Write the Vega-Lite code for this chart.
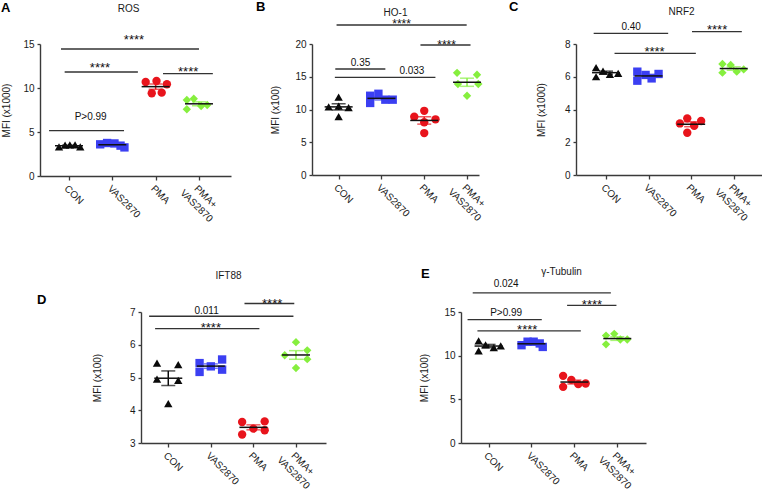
{
"$schema": "https://vega.github.io/schema/vega-lite/v6.json",
"padding": {"left": 1, "top": 1, "right": 0, "bottom": 0},
"spacing": 42,
"datasets": {
"pts": [
{"p":"A","g":"CON","j":-0.23,"v":3.3},{"p":"A","g":"CON","j":-0.09,"v":3.5},{"p":"A","g":"CON","j":0.02,"v":3.55},{"p":"A","g":"CON","j":0.14,"v":3.55},{"p":"A","g":"CON","j":0.26,"v":3.3},
{"p":"A","g":"VAS2870","j":-0.28,"v":3.6},{"p":"A","g":"VAS2870","j":-0.12,"v":3.75},{"p":"A","g":"VAS2870","j":0.05,"v":3.7},{"p":"A","g":"VAS2870","j":0.19,"v":3.45},{"p":"A","g":"VAS2870","j":0.28,"v":3.25},
{"p":"A","g":"PMA","j":-0.23,"v":10.68},{"p":"A","g":"PMA","j":-0.09,"v":9.4},{"p":"A","g":"PMA","j":0.02,"v":10.8},{"p":"A","g":"PMA","j":0.14,"v":9.47},{"p":"A","g":"PMA","j":0.26,"v":10.42},
{"p":"A","g":"PMA+ VAS2870","j":-0.28,"v":8.64},{"p":"A","g":"PMA+ VAS2870","j":-0.28,"v":7.58},{"p":"A","g":"PMA+ VAS2870","j":-0.12,"v":8.78},{"p":"A","g":"PMA+ VAS2870","j":0.05,"v":7.95},{"p":"A","g":"PMA+ VAS2870","j":0.19,"v":8.07},
{"p":"B","g":"CON","j":-0.23,"v":10.4},{"p":"B","g":"CON","j":0,"v":11.9},{"p":"B","g":"CON","j":0,"v":10.5},{"p":"B","g":"CON","j":0,"v":8.9},{"p":"B","g":"CON","j":0.23,"v":10.3},
{"p":"B","g":"VAS2870","j":-0.26,"v":12.1},{"p":"B","g":"VAS2870","j":-0.26,"v":11.0},{"p":"B","g":"VAS2870","j":-0.07,"v":12.4},{"p":"B","g":"VAS2870","j":0.09,"v":11.5},{"p":"B","g":"VAS2870","j":0.26,"v":11.5},
{"p":"B","g":"PMA","j":0,"v":9.8},{"p":"B","g":"PMA","j":-0.23,"v":8.9},{"p":"B","g":"PMA","j":0,"v":8.05},{"p":"B","g":"PMA","j":0.26,"v":8.5},{"p":"B","g":"PMA","j":0,"v":6.4},
{"p":"B","g":"PMA+ VAS2870","j":-0.23,"v":15.6},{"p":"B","g":"PMA+ VAS2870","j":0.23,"v":15.3},{"p":"B","g":"PMA+ VAS2870","j":-0.21,"v":13.9},{"p":"B","g":"PMA+ VAS2870","j":0.26,"v":13.9},{"p":"B","g":"PMA+ VAS2870","j":0,"v":12.1},
{"p":"C","g":"CON","j":-0.23,"v":6.55},{"p":"C","g":"CON","j":-0.23,"v":6.0},{"p":"C","g":"CON","j":-0.07,"v":6.35},{"p":"C","g":"CON","j":0.09,"v":6.15},{"p":"C","g":"CON","j":0.28,"v":6.2},
{"p":"C","g":"VAS2870","j":-0.26,"v":6.31},{"p":"C","g":"VAS2870","j":-0.26,"v":5.76},{"p":"C","g":"VAS2870","j":-0.07,"v":6.11},{"p":"C","g":"VAS2870","j":0.07,"v":5.9},{"p":"C","g":"VAS2870","j":0.23,"v":6.17},
{"p":"C","g":"PMA","j":-0.09,"v":3.46},{"p":"C","g":"PMA","j":-0.26,"v":3.15},{"p":"C","g":"PMA","j":0.07,"v":3.01},{"p":"C","g":"PMA","j":0.23,"v":3.3},{"p":"C","g":"PMA","j":-0.09,"v":2.58},
{"p":"C","g":"PMA+ VAS2870","j":-0.26,"v":6.78},{"p":"C","g":"PMA+ VAS2870","j":-0.07,"v":6.72},{"p":"C","g":"PMA+ VAS2870","j":-0.26,"v":6.25},{"p":"C","g":"PMA+ VAS2870","j":0.07,"v":6.31},{"p":"C","g":"PMA+ VAS2870","j":0.23,"v":6.45},
{"p":"D","g":"CON","j":-0.26,"v":5.44},{"p":"D","g":"CON","j":0.23,"v":5.39},{"p":"D","g":"CON","j":-0.26,"v":4.95},{"p":"D","g":"CON","j":0.23,"v":4.91},{"p":"D","g":"CON","j":0,"v":4.2},
{"p":"D","g":"VAS2870","j":-0.26,"v":5.44},{"p":"D","g":"VAS2870","j":-0.26,"v":5.17},{"p":"D","g":"VAS2870","j":0,"v":5.34},{"p":"D","g":"VAS2870","j":0.26,"v":5.55},{"p":"D","g":"VAS2870","j":0.26,"v":5.24},
{"p":"D","g":"PMA","j":-0.26,"v":3.64},{"p":"D","g":"PMA","j":0.26,"v":3.66},{"p":"D","g":"PMA","j":0,"v":3.44},{"p":"D","g":"PMA","j":0.26,"v":3.39},{"p":"D","g":"PMA","j":-0.26,"v":3.26},
{"p":"D","g":"PMA+ VAS2870","j":0,"v":6.08},{"p":"D","g":"PMA+ VAS2870","j":-0.26,"v":5.68},{"p":"D","g":"PMA+ VAS2870","j":0.26,"v":5.83},{"p":"D","g":"PMA+ VAS2870","j":0.26,"v":5.56},{"p":"D","g":"PMA+ VAS2870","j":0,"v":5.29},
{"p":"E","g":"CON","j":-0.23,"v":11.69},{"p":"E","g":"CON","j":-0.23,"v":10.55},{"p":"E","g":"CON","j":-0.07,"v":11.23},{"p":"E","g":"CON","j":0.12,"v":10.92},{"p":"E","g":"CON","j":0.28,"v":11.12},
{"p":"E","g":"VAS2870","j":-0.23,"v":11.2},{"p":"E","g":"VAS2870","j":-0.09,"v":11.6},{"p":"E","g":"VAS2870","j":0.05,"v":11.6},{"p":"E","g":"VAS2870","j":0.19,"v":11.4},{"p":"E","g":"VAS2870","j":0.26,"v":11.0},
{"p":"E","g":"PMA","j":-0.26,"v":7.69},{"p":"E","g":"PMA","j":-0.07,"v":7.23},{"p":"E","g":"PMA","j":-0.26,"v":6.43},{"p":"E","g":"PMA","j":0.09,"v":6.74},{"p":"E","g":"PMA","j":0.26,"v":6.81},
{"p":"E","g":"PMA+ VAS2870","j":-0.26,"v":12.3},{"p":"E","g":"PMA+ VAS2870","j":-0.07,"v":12.5},{"p":"E","g":"PMA+ VAS2870","j":-0.26,"v":11.3},{"p":"E","g":"PMA+ VAS2870","j":0.07,"v":11.85},{"p":"E","g":"PMA+ VAS2870","j":0.23,"v":11.85}
],
"sig": [
{"p":"A","x1":-0.185,"x2":3.0,"y":14.43,"lx":1.5,"ly":15.05,"t":"****"},
{"p":"A","x1":-0.1,"x2":1.59,"y":11.82,"lx":0.715,"ly":11.87,"t":"****"},
{"p":"A","x1":2.17,"x2":3.32,"y":11.63,"lx":2.75,"ly":11.34,"t":"****"},
{"p":"A","x1":-0.46,"x2":1.27,"y":5.15,"lx":0.5,"ly":6.41,"t":"P>0.99"},
{"p":"B","x1":-0.05,"x2":2.99,"y":22.9,"lx":1.47,"ly":22.42,"t":"****"},
{"p":"B","x1":1.91,"x2":3.08,"y":19.85,"lx":2.52,"ly":19.26,"t":"****"},
{"p":"B","x1":-0.08,"x2":1.09,"y":16.18,"lx":0.51,"ly":16.64,"t":"0.35"},
{"p":"B","x1":-0.09,"x2":2.26,"y":14.9,"lx":1.71,"ly":15.37,"t":"0.033"},
{"p":"C","x1":-0.29,"x2":1.46,"y":8.65,"lx":0.59,"ly":8.84,"t":"0.40"},
{"p":"C","x1":0.2,"x2":2.11,"y":7.43,"lx":1.14,"ly":7.28,"t":"****"},
{"p":"C","x1":2.02,"x2":3.19,"y":8.75,"lx":2.61,"ly":8.6,"t":"****"},
{"p":"D","x1":-0.45,"x2":2.94,"y":6.87,"lx":0.9,"ly":6.94,"t":"0.011"},
{"p":"D","x1":-0.31,"x2":2.14,"y":6.49,"lx":1.0,"ly":6.39,"t":"****"},
{"p":"D","x1":1.79,"x2":2.96,"y":7.26,"lx":2.44,"ly":7.13,"t":"****"},
{"p":"E","x1":-0.37,"x2":2.85,"y":17.2,"lx":0.41,"ly":17.82,"t":"0.024"},
{"p":"E","x1":1.83,"x2":2.98,"y":15.77,"lx":2.41,"ly":15.4,"t":"****"},
{"p":"E","x1":-0.49,"x2":1.24,"y":14.12,"lx":0.41,"ly":14.51,"t":"P>0.99"},
{"p":"E","x1":-0.26,"x2":2.15,"y":12.83,"lx":0.9,"ly":12.46,"t":"****"}
]
},
"vconcat": [
{"bounds": "flush", "spacing": 81, "hconcat": [
{
 "width": 191, "height": 132,
 "title": {"text": "A", "anchor": "start", "frame": "group", "dx": -39, "dy": 21.5, "offset": 0, "baseline": "alphabetic", "fontSize": 13, "fontWeight": "bold"},
 "layer": [
  {"data": {"name": "pts"}, "transform": [{"filter": "datum.p == 'A'"}],
   "layer": [
    {"mark": {"type": "point", "filled": true, "size": 70, "opacity": 1},
     "encoding": {
      "x": {"field": "g", "type": "nominal", "scale": {"type": "point", "domain": ["CON","VAS2870","PMA","PMA+ VAS2870"], "padding": 0.704, "align": 0.475}, "axis": {"title": null, "labelOverlap": false, "labelExpr": "datum.value == 'PMA+ VAS2870' ? ['PMA+', 'VAS2870'] : datum.value"}},
      "xOffset": {"field": "j", "type": "quantitative", "scale": {"domain": [-0.5, 0.5], "range": [-21.67, 21.67]}},
      "y": {"field": "v", "type": "quantitative", "scale": {"domain": [0, 15], "nice": false}, "axis": {"title": "MFI (x1000)", "values": [0,5,10,15], "titlePadding": 11}},
      "color": {"field": "g", "type": "nominal", "scale": {"domain": ["CON","VAS2870","PMA","PMA+ VAS2870"], "range": ["#0a0a0a","#3b3ff2","#e8141c","#86ef3e"]}, "legend": null},
      "shape": {"field": "g", "type": "nominal", "scale": {"domain": ["CON","VAS2870","PMA","PMA+ VAS2870"], "range": ["triangle-up","square","circle","diamond"]}, "legend": null}
     }},
    {"mark": {"type": "errorbar", "extent": "stderr", "thickness": 1.5, "ticks": {"size": 14}},
     "encoding": {
      "x": {"field": "g", "type": "nominal", "scale": {"type": "point", "domain": ["CON","VAS2870","PMA","PMA+ VAS2870"], "padding": 0.704, "align": 0.475}, "axis": {"title": null, "labelOverlap": false, "labelExpr": "datum.value == 'PMA+ VAS2870' ? ['PMA+', 'VAS2870'] : datum.value"}},
      "y": {"field": "v", "type": "quantitative", "scale": {"domain": [0, 15], "nice": false}, "axis": {"title": "MFI (x1000)", "values": [0,5,10,15], "titlePadding": 11}},
      "color": {"field": "g", "type": "nominal", "scale": {"domain": ["CON","VAS2870","PMA","PMA+ VAS2870"], "range": ["#0a0a0a","#3b3ff2","#e8141c","#86ef3e"]}, "legend": null}
     }},
    {"mark": {"type": "tick", "size": 28, "thickness": 1.5, "color": "#111111"},
     "encoding": {
      "x": {"field": "g", "type": "nominal", "scale": {"type": "point", "domain": ["CON","VAS2870","PMA","PMA+ VAS2870"], "padding": 0.704, "align": 0.475}, "axis": {"title": null, "labelOverlap": false, "labelExpr": "datum.value == 'PMA+ VAS2870' ? ['PMA+', 'VAS2870'] : datum.value"}},
      "y": {"aggregate": "mean", "field": "v", "type": "quantitative", "scale": {"domain": [0, 15], "nice": false}, "axis": {"title": "MFI (x1000)", "values": [0,5,10,15], "titlePadding": 11}}
     }}
   ]},
  {"data": {"name": "sig"}, "transform": [{"filter": "datum.p == 'A'"}],
   "layer": [
    {"mark": {"type": "rule", "color": "#333333", "strokeWidth": 1.3},
     "encoding": {
      "x": {"field": "x1", "type": "quantitative", "scale": {"domain": [-0.669, 3.739], "nice": false, "zero": false}, "axis": {"orient": "top", "title": "ROS", "labels": false, "ticks": false, "domain": false, "grid": false, "titleX": 88, "titleY": -33, "titleAlign": "center", "titleBaseline": "alphabetic", "titleFontSize": 10}},
      "x2": {"field": "x2"},
      "y": {"field": "y", "type": "quantitative", "scale": {"domain": [0, 15], "nice": false}, "axis": {"title": "MFI (x1000)", "values": [0,5,10,15], "titlePadding": 11}}
     }},
    {"mark": {"type": "text", "baseline": "alphabetic", "align": "center", "color": "#111111"},
     "encoding": {
      "x": {"field": "lx", "type": "quantitative", "scale": {"domain": [-0.669, 3.739], "nice": false, "zero": false}, "axis": {"orient": "top", "title": "ROS", "labels": false, "ticks": false, "domain": false, "grid": false, "titleX": 88, "titleY": -33, "titleAlign": "center", "titleBaseline": "alphabetic", "titleFontSize": 10}},
      "y": {"field": "ly", "type": "quantitative", "scale": {"domain": [0, 15], "nice": false}, "axis": {"title": "MFI (x1000)", "values": [0,5,10,15], "titlePadding": 11}},
      "text": {"field": "t"},
      "size": {"condition": {"test": "datum.t == '****'", "value": 13}, "value": 10}
     }}
   ]}
 ],
 "resolve": {"scale": {"x": "independent"}}
},
{"bounds": "flush", "spacing": 97, "hconcat": [
{
 "width": 167, "height": 131,
 "title": {"text": "B", "anchor": "start", "frame": "group", "dx": -56, "dy": 16.5, "offset": 0, "baseline": "alphabetic", "fontSize": 13, "fontWeight": "bold"},
 "layer": [
  {"data": {"name": "pts"}, "transform": [{"filter": "datum.p == 'B'"}],
   "layer": [
    {"mark": {"type": "point", "filled": true, "size": 70, "opacity": 1},
     "encoding": {
      "x": {"field": "g", "type": "nominal", "scale": {"type": "point", "domain": ["CON","VAS2870","PMA","PMA+ VAS2870"], "padding": 0.451, "align": 0.69}, "axis": {"title": null, "labelOverlap": false, "labelExpr": "datum.value == 'PMA+ VAS2870' ? ['PMA+', 'VAS2870'] : datum.value"}},
      "xOffset": {"field": "j", "type": "quantitative", "scale": {"domain": [-0.5, 0.5], "range": [-21.4, 21.4]}},
      "y": {"field": "v", "type": "quantitative", "scale": {"domain": [0, 20], "nice": false}, "axis": {"title": "MFI (x100)", "values": [0,5,10,15,20], "titlePadding": 14}},
      "color": {"field": "g", "type": "nominal", "scale": {"domain": ["CON","VAS2870","PMA","PMA+ VAS2870"], "range": ["#0a0a0a","#3b3ff2","#e8141c","#86ef3e"]}, "legend": null},
      "shape": {"field": "g", "type": "nominal", "scale": {"domain": ["CON","VAS2870","PMA","PMA+ VAS2870"], "range": ["triangle-up","square","circle","diamond"]}, "legend": null}
     }},
    {"mark": {"type": "errorbar", "extent": "stderr", "thickness": 1.5, "ticks": {"size": 14}},
     "encoding": {
      "x": {"field": "g", "type": "nominal", "scale": {"type": "point", "domain": ["CON","VAS2870","PMA","PMA+ VAS2870"], "padding": 0.451, "align": 0.69}, "axis": {"title": null, "labelOverlap": false, "labelExpr": "datum.value == 'PMA+ VAS2870' ? ['PMA+', 'VAS2870'] : datum.value"}},
      "y": {"field": "v", "type": "quantitative", "scale": {"domain": [0, 20], "nice": false}, "axis": {"title": "MFI (x100)", "values": [0,5,10,15,20], "titlePadding": 14}},
      "color": {"field": "g", "type": "nominal", "scale": {"domain": ["CON","VAS2870","PMA","PMA+ VAS2870"], "range": ["#0a0a0a","#3b3ff2","#e8141c","#86ef3e"]}, "legend": null}
     }},
    {"mark": {"type": "tick", "size": 28, "thickness": 1.5, "color": "#111111"},
     "encoding": {
      "x": {"field": "g", "type": "nominal", "scale": {"type": "point", "domain": ["CON","VAS2870","PMA","PMA+ VAS2870"], "padding": 0.451, "align": 0.69}, "axis": {"title": null, "labelOverlap": false, "labelExpr": "datum.value == 'PMA+ VAS2870' ? ['PMA+', 'VAS2870'] : datum.value"}},
      "y": {"aggregate": "mean", "field": "v", "type": "quantitative", "scale": {"domain": [0, 20], "nice": false}, "axis": {"title": "MFI (x100)", "values": [0,5,10,15,20], "titlePadding": 14}}
     }}
   ]},
  {"data": {"name": "sig"}, "transform": [{"filter": "datum.p == 'B'"}],
   "layer": [
    {"mark": {"type": "rule", "color": "#333333", "strokeWidth": 1.3},
     "encoding": {
      "x": {"field": "x1", "type": "quantitative", "scale": {"domain": [-0.624, 3.278], "nice": false, "zero": false}, "axis": {"orient": "top", "title": "HO-1", "labels": false, "ticks": false, "domain": false, "grid": false, "titleX": 83, "titleY": -28.5, "titleAlign": "center", "titleBaseline": "alphabetic", "titleFontSize": 10}},
      "x2": {"field": "x2"},
      "y": {"field": "y", "type": "quantitative", "scale": {"domain": [0, 20], "nice": false}, "axis": {"title": "MFI (x100)", "values": [0,5,10,15,20], "titlePadding": 14}}
     }},
    {"mark": {"type": "text", "baseline": "alphabetic", "align": "center", "color": "#111111"},
     "encoding": {
      "x": {"field": "lx", "type": "quantitative", "scale": {"domain": [-0.624, 3.278], "nice": false, "zero": false}, "axis": {"orient": "top", "title": "HO-1", "labels": false, "ticks": false, "domain": false, "grid": false, "titleX": 83, "titleY": -28.5, "titleAlign": "center", "titleBaseline": "alphabetic", "titleFontSize": 10}},
      "y": {"field": "ly", "type": "quantitative", "scale": {"domain": [0, 20], "nice": false}, "axis": {"title": "MFI (x100)", "values": [0,5,10,15,20], "titlePadding": 14}},
      "text": {"field": "t"},
      "size": {"condition": {"test": "datum.t == '****'", "value": 12}, "value": 10}
     }}
   ]}
 ],
 "resolve": {"scale": {"x": "independent"}}
},
{
 "width": 186, "height": 131,
 "title": {"text": "C", "anchor": "start", "frame": "group", "dx": -67, "dy": 18, "offset": 0, "baseline": "alphabetic", "fontSize": 13, "fontWeight": "bold"},
 "layer": [
  {"data": {"name": "pts"}, "transform": [{"filter": "datum.p == 'C'"}],
   "layer": [
    {"mark": {"type": "point", "filled": true, "size": 70, "opacity": 1},
     "encoding": {
      "x": {"field": "g", "type": "nominal", "scale": {"type": "point", "domain": ["CON","VAS2870","PMA","PMA+ VAS2870"], "padding": 0.685, "align": 0.515}, "axis": {"title": null, "labelOverlap": false, "labelExpr": "datum.value == 'PMA+ VAS2870' ? ['PMA+', 'VAS2870'] : datum.value"}},
      "xOffset": {"field": "j", "type": "quantitative", "scale": {"domain": [-0.5, 0.5], "range": [-21.3, 21.3]}},
      "y": {"field": "v", "type": "quantitative", "scale": {"domain": [0, 8], "nice": false}, "axis": {"title": "MFI (x1000)", "values": [0,2,4,6,8], "titlePadding": 18}},
      "color": {"field": "g", "type": "nominal", "scale": {"domain": ["CON","VAS2870","PMA","PMA+ VAS2870"], "range": ["#0a0a0a","#3b3ff2","#e8141c","#86ef3e"]}, "legend": null},
      "shape": {"field": "g", "type": "nominal", "scale": {"domain": ["CON","VAS2870","PMA","PMA+ VAS2870"], "range": ["triangle-up","square","circle","diamond"]}, "legend": null}
     }},
    {"mark": {"type": "errorbar", "extent": "stderr", "thickness": 1.5, "ticks": {"size": 14}},
     "encoding": {
      "x": {"field": "g", "type": "nominal", "scale": {"type": "point", "domain": ["CON","VAS2870","PMA","PMA+ VAS2870"], "padding": 0.685, "align": 0.515}, "axis": {"title": null, "labelOverlap": false, "labelExpr": "datum.value == 'PMA+ VAS2870' ? ['PMA+', 'VAS2870'] : datum.value"}},
      "y": {"field": "v", "type": "quantitative", "scale": {"domain": [0, 8], "nice": false}, "axis": {"title": "MFI (x1000)", "values": [0,2,4,6,8], "titlePadding": 18}},
      "color": {"field": "g", "type": "nominal", "scale": {"domain": ["CON","VAS2870","PMA","PMA+ VAS2870"], "range": ["#0a0a0a","#3b3ff2","#e8141c","#86ef3e"]}, "legend": null}
     }},
    {"mark": {"type": "tick", "size": 28, "thickness": 1.5, "color": "#111111"},
     "encoding": {
      "x": {"field": "g", "type": "nominal", "scale": {"type": "point", "domain": ["CON","VAS2870","PMA","PMA+ VAS2870"], "padding": 0.685, "align": 0.515}, "axis": {"title": null, "labelOverlap": false, "labelExpr": "datum.value == 'PMA+ VAS2870' ? ['PMA+', 'VAS2870'] : datum.value"}},
      "y": {"aggregate": "mean", "field": "v", "type": "quantitative", "scale": {"domain": [0, 8], "nice": false}, "axis": {"title": "MFI (x1000)", "values": [0,2,4,6,8], "titlePadding": 18}}
     }}
   ]},
  {"data": {"name": "sig"}, "transform": [{"filter": "datum.p == 'C'"}],
   "layer": [
    {"mark": {"type": "rule", "color": "#333333", "strokeWidth": 1.3},
     "encoding": {
      "x": {"field": "x1", "type": "quantitative", "scale": {"domain": [-0.705, 3.664], "nice": false, "zero": false}, "axis": {"orient": "top", "title": "NRF2", "labels": false, "ticks": false, "domain": false, "grid": false, "titleX": 105, "titleY": -30, "titleAlign": "center", "titleBaseline": "alphabetic", "titleFontSize": 10}},
      "x2": {"field": "x2"},
      "y": {"field": "y", "type": "quantitative", "scale": {"domain": [0, 8], "nice": false}, "axis": {"title": "MFI (x1000)", "values": [0,2,4,6,8], "titlePadding": 18}}
     }},
    {"mark": {"type": "text", "baseline": "alphabetic", "align": "center", "color": "#111111"},
     "encoding": {
      "x": {"field": "lx", "type": "quantitative", "scale": {"domain": [-0.705, 3.664], "nice": false, "zero": false}, "axis": {"orient": "top", "title": "NRF2", "labels": false, "ticks": false, "domain": false, "grid": false, "titleX": 105, "titleY": -30, "titleAlign": "center", "titleBaseline": "alphabetic", "titleFontSize": 10}},
      "y": {"field": "ly", "type": "quantitative", "scale": {"domain": [0, 8], "nice": false}, "axis": {"title": "MFI (x1000)", "values": [0,2,4,6,8], "titlePadding": 18}},
      "text": {"field": "t"},
      "size": {"condition": {"test": "datum.t == '****'", "value": 13}, "value": 10}
     }}
   ]}
 ],
 "resolve": {"scale": {"x": "independent"}}
}
]}
]},
{"bounds": "flush", "spacing": 0, "hconcat": [
{"width": 101, "height": 10, "data": {"values": []}, "mark": "point", "encoding": {}},
{"bounds": "flush", "spacing": 135, "hconcat": [
{
 "width": 185, "height": 131,
 "title": {"text": "D", "anchor": "start", "frame": "group", "dx": -104, "dy": 47, "offset": 0, "baseline": "alphabetic", "fontSize": 13, "fontWeight": "bold"},
 "layer": [
  {"data": {"name": "pts"}, "transform": [{"filter": "datum.p == 'D'"}],
   "layer": [
    {"mark": {"type": "point", "filled": true, "size": 70, "opacity": 1},
     "encoding": {
      "x": {"field": "g", "type": "nominal", "scale": {"type": "point", "domain": ["CON","VAS2870","PMA","PMA+ VAS2870"], "padding": 0.673, "align": 0.476}, "axis": {"title": null, "labelOverlap": false, "labelExpr": "datum.value == 'PMA+ VAS2870' ? ['PMA+', 'VAS2870'] : datum.value"}},
      "xOffset": {"field": "j", "type": "quantitative", "scale": {"domain": [-0.5, 0.5], "range": [-21.3, 21.3]}},
      "y": {"field": "v", "type": "quantitative", "scale": {"domain": [3, 7], "nice": false, "zero": false}, "axis": {"title": "MFI (x100)", "values": [3,4,5,6,7], "titlePadding": 27}},
      "color": {"field": "g", "type": "nominal", "scale": {"domain": ["CON","VAS2870","PMA","PMA+ VAS2870"], "range": ["#0a0a0a","#3b3ff2","#e8141c","#86ef3e"]}, "legend": null},
      "shape": {"field": "g", "type": "nominal", "scale": {"domain": ["CON","VAS2870","PMA","PMA+ VAS2870"], "range": ["triangle-up","square","circle","diamond"]}, "legend": null}
     }},
    {"mark": {"type": "errorbar", "extent": "stderr", "thickness": 1.5, "ticks": {"size": 14}},
     "encoding": {
      "x": {"field": "g", "type": "nominal", "scale": {"type": "point", "domain": ["CON","VAS2870","PMA","PMA+ VAS2870"], "padding": 0.673, "align": 0.476}, "axis": {"title": null, "labelOverlap": false, "labelExpr": "datum.value == 'PMA+ VAS2870' ? ['PMA+', 'VAS2870'] : datum.value"}},
      "y": {"field": "v", "type": "quantitative", "scale": {"domain": [3, 7], "nice": false, "zero": false}, "axis": {"title": "MFI (x100)", "values": [3,4,5,6,7], "titlePadding": 27}},
      "color": {"field": "g", "type": "nominal", "scale": {"domain": ["CON","VAS2870","PMA","PMA+ VAS2870"], "range": ["#0a0a0a","#3b3ff2","#e8141c","#86ef3e"]}, "legend": null}
     }},
    {"mark": {"type": "tick", "size": 28, "thickness": 1.5, "color": "#111111"},
     "encoding": {
      "x": {"field": "g", "type": "nominal", "scale": {"type": "point", "domain": ["CON","VAS2870","PMA","PMA+ VAS2870"], "padding": 0.673, "align": 0.476}, "axis": {"title": null, "labelOverlap": false, "labelExpr": "datum.value == 'PMA+ VAS2870' ? ['PMA+', 'VAS2870'] : datum.value"}},
      "y": {"aggregate": "mean", "field": "v", "type": "quantitative", "scale": {"domain": [3, 7], "nice": false, "zero": false}, "axis": {"title": "MFI (x100)", "values": [3,4,5,6,7], "titlePadding": 27}}
     }}
   ]},
  {"data": {"name": "sig"}, "transform": [{"filter": "datum.p == 'D'"}],
   "layer": [
    {"mark": {"type": "rule", "color": "#333333", "strokeWidth": 1.3},
     "encoding": {
      "x": {"field": "x1", "type": "quantitative", "scale": {"domain": [-0.641, 3.705], "nice": false, "zero": false}, "axis": {"orient": "top", "title": "IFT88", "labels": false, "ticks": false, "domain": false, "grid": false, "titleX": 87, "titleY": -34, "titleAlign": "center", "titleBaseline": "alphabetic", "titleFontSize": 10}},
      "x2": {"field": "x2"},
      "y": {"field": "y", "type": "quantitative", "scale": {"domain": [3, 7], "nice": false, "zero": false}, "axis": {"title": "MFI (x100)", "values": [3,4,5,6,7], "titlePadding": 27}}
     }},
    {"mark": {"type": "text", "baseline": "alphabetic", "align": "center", "color": "#111111"},
     "encoding": {
      "x": {"field": "lx", "type": "quantitative", "scale": {"domain": [-0.641, 3.705], "nice": false, "zero": false}, "axis": {"orient": "top", "title": "IFT88", "labels": false, "ticks": false, "domain": false, "grid": false, "titleX": 87, "titleY": -34, "titleAlign": "center", "titleBaseline": "alphabetic", "titleFontSize": 10}},
      "y": {"field": "ly", "type": "quantitative", "scale": {"domain": [3, 7], "nice": false, "zero": false}, "axis": {"title": "MFI (x100)", "values": [3,4,5,6,7], "titlePadding": 27}},
      "text": {"field": "t"},
      "size": {"condition": {"test": "datum.t == '****'", "value": 13}, "value": 10}
     }}
   ]}
 ],
 "resolve": {"scale": {"x": "independent"}}
},
{
 "width": 185, "height": 131,
 "title": {"text": "E", "anchor": "start", "frame": "group", "dx": -40, "dy": 24.5, "offset": 0, "baseline": "alphabetic", "fontSize": 13, "fontWeight": "bold"},
 "layer": [
  {"data": {"name": "pts"}, "transform": [{"filter": "datum.p == 'E'"}],
   "layer": [
    {"mark": {"type": "point", "filled": true, "size": 70, "opacity": 1},
     "encoding": {
      "x": {"field": "g", "type": "nominal", "scale": {"type": "point", "domain": ["CON","VAS2870","PMA","PMA+ VAS2870"], "padding": 0.656, "align": 0.49}, "axis": {"title": null, "labelOverlap": false, "labelExpr": "datum.value == 'PMA+ VAS2870' ? ['PMA+', 'VAS2870'] : datum.value"}},
      "xOffset": {"field": "j", "type": "quantitative", "scale": {"domain": [-0.5, 0.5], "range": [-21.45, 21.45]}},
      "y": {"field": "v", "type": "quantitative", "scale": {"domain": [0, 15], "nice": false}, "axis": {"title": "MFI (x100)", "values": [0,5,10,15], "titlePadding": 14}},
      "color": {"field": "g", "type": "nominal", "scale": {"domain": ["CON","VAS2870","PMA","PMA+ VAS2870"], "range": ["#0a0a0a","#3b3ff2","#e8141c","#86ef3e"]}, "legend": null},
      "shape": {"field": "g", "type": "nominal", "scale": {"domain": ["CON","VAS2870","PMA","PMA+ VAS2870"], "range": ["triangle-up","square","circle","diamond"]}, "legend": null}
     }},
    {"mark": {"type": "errorbar", "extent": "stderr", "thickness": 1.5, "ticks": {"size": 14}},
     "encoding": {
      "x": {"field": "g", "type": "nominal", "scale": {"type": "point", "domain": ["CON","VAS2870","PMA","PMA+ VAS2870"], "padding": 0.656, "align": 0.49}, "axis": {"title": null, "labelOverlap": false, "labelExpr": "datum.value == 'PMA+ VAS2870' ? ['PMA+', 'VAS2870'] : datum.value"}},
      "y": {"field": "v", "type": "quantitative", "scale": {"domain": [0, 15], "nice": false}, "axis": {"title": "MFI (x100)", "values": [0,5,10,15], "titlePadding": 14}},
      "color": {"field": "g", "type": "nominal", "scale": {"domain": ["CON","VAS2870","PMA","PMA+ VAS2870"], "range": ["#0a0a0a","#3b3ff2","#e8141c","#86ef3e"]}, "legend": null}
     }},
    {"mark": {"type": "tick", "size": 28, "thickness": 1.5, "color": "#111111"},
     "encoding": {
      "x": {"field": "g", "type": "nominal", "scale": {"type": "point", "domain": ["CON","VAS2870","PMA","PMA+ VAS2870"], "padding": 0.656, "align": 0.49}, "axis": {"title": null, "labelOverlap": false, "labelExpr": "datum.value == 'PMA+ VAS2870' ? ['PMA+', 'VAS2870'] : datum.value"}},
      "y": {"aggregate": "mean", "field": "v", "type": "quantitative", "scale": {"domain": [0, 15], "nice": false}, "axis": {"title": "MFI (x100)", "values": [0,5,10,15], "titlePadding": 14}}
     }}
   ]},
  {"data": {"name": "sig"}, "transform": [{"filter": "datum.p == 'E'"}],
   "layer": [
    {"mark": {"type": "rule", "color": "#333333", "strokeWidth": 1.3},
     "encoding": {
      "x": {"field": "x1", "type": "quantitative", "scale": {"domain": [-0.643, 3.669], "nice": false, "zero": false}, "axis": {"orient": "top", "title": "γ-Tubulin", "labels": false, "ticks": false, "domain": false, "grid": false, "titleX": 100, "titleY": -38, "titleAlign": "center", "titleBaseline": "alphabetic", "titleFontSize": 10}},
      "x2": {"field": "x2"},
      "y": {"field": "y", "type": "quantitative", "scale": {"domain": [0, 15], "nice": false}, "axis": {"title": "MFI (x100)", "values": [0,5,10,15], "titlePadding": 14}}
     }},
    {"mark": {"type": "text", "baseline": "alphabetic", "align": "center", "color": "#111111"},
     "encoding": {
      "x": {"field": "lx", "type": "quantitative", "scale": {"domain": [-0.643, 3.669], "nice": false, "zero": false}, "axis": {"orient": "top", "title": "γ-Tubulin", "labels": false, "ticks": false, "domain": false, "grid": false, "titleX": 100, "titleY": -38, "titleAlign": "center", "titleBaseline": "alphabetic", "titleFontSize": 10}},
      "y": {"field": "ly", "type": "quantitative", "scale": {"domain": [0, 15], "nice": false}, "axis": {"title": "MFI (x100)", "values": [0,5,10,15], "titlePadding": 14}},
      "text": {"field": "t"},
      "size": {"condition": {"test": "datum.t == '****'", "value": 13}, "value": 10}
     }}
   ]}
 ],
 "resolve": {"scale": {"x": "independent"}}
}
]}
]}
],
"config": {
 "font": "Liberation Sans",
 "view": {"stroke": null},
 "axis": {"labelFont": "Liberation Sans", "titleFont": "Liberation Sans", "labelFontSize": 10, "titleFontSize": 10, "titleFontWeight": "normal", "labelColor": "#1a1a1a", "titleColor": "#1a1a1a", "domainColor": "#3a3a3a", "domainWidth": 1.4, "tickColor": "#3a3a3a", "tickWidth": 1.3, "grid": false},
 "axisX": {"labelAngle": 45, "labelBaseline": "top", "tickSize": 4, "labelLineHeight": 13,
   "labelAlign": {"condition": {"test": "datum.value == 'PMA+ VAS2870'", "value": "center"}, "value": "left"},
   "labelOffset": {"condition": {"test": "datum.value == 'PMA+ VAS2870'", "value": 9.7}, "value": 0},
   "labelPadding": {"condition": {"test": "datum.value == 'PMA+ VAS2870'", "value": 12.7}, "value": 3}},
 "axisY": {"tickSize": 3, "labelPadding": 3},
 "title": {"font": "Liberation Sans", "color": "#000000"}
}
}
